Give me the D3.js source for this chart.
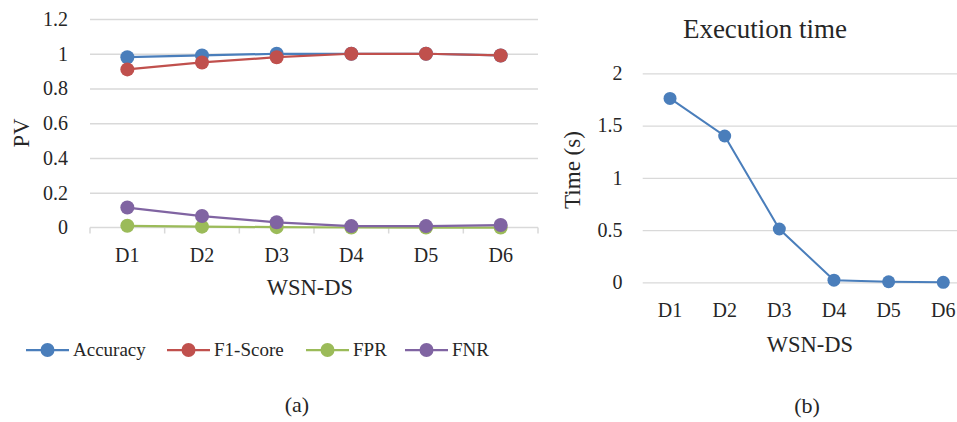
<!DOCTYPE html>
<html>
<head>
<meta charset="utf-8">
<script src="https://cdn.jsdelivr.net/npm/d3@7"></script>
<style>
  body { margin: 0; background: #fff; }
  text { font-family: "Liberation Serif", "Times New Roman", serif; fill: #262626; }
</style>
</head>
<body>
<div id="viz"></div>
<script>
// data
const categories = ["D1", "D2", "D3", "D4", "D5", "D6"];
const accuracy = [0.98, 0.99, 1.0, 1.0, 1.0, 0.99];
const f1Score  = [0.91, 0.95, 0.98, 1.0, 1.0, 0.99];
const fpr      = [0.01, 0.005, 0.002, 0.0, 0.0, 0.0];
const fnr      = [0.115, 0.066, 0.03, 0.008, 0.008, 0.014];
const execTime = [1.76, 1.40, 0.51, 0.02, 0.005, 0.0];
const pvTicks   = [0, 0.2, 0.4, 0.6, 0.8, 1, 1.2];
const timeTicks = [0, 0.5, 1, 1.5, 2];

const seriesA = [
  {name: "Accuracy", values: accuracy, color: "#4a7ebb"},
  {name: "F1-Score", values: f1Score,  color: "#c0504d"},
  {name: "FPR",      values: fpr,      color: "#9bbb59"},
  {name: "FNR",      values: fnr,      color: "#8064a2"}
];

const W = 957, H = 422;
const gridColor = "#d9d9d9";

const svg = d3.select("#viz")
  .append("svg")
    .attr("width", W)
    .attr("height", H);

// ---------- chart (a) ----------
const xA = d3.scaleBand().domain(categories).range([90, 538]);
const yA = d3.scaleLinear().domain([0, 1.2]).range([227.5, 19]);

// gridlines
svg.append("g")
  .attr("transform", `translate(90,0)`)
  .call(d3.axisLeft(yA).tickValues(pvTicks.filter(d => d > 0)).tickSize(-(538 - 90)).tickFormat(""))
  .call(g => g.select(".domain").remove())
  .call(g => g.selectAll("line").attr("stroke", gridColor).attr("stroke-width", 1.3));

// x axis line with ticks at band edges
const xAxisA = svg.append("g");
xAxisA.append("line")
  .attr("x1", 90).attr("x2", 538)
  .attr("y1", yA(0)).attr("y2", yA(0))
  .attr("stroke", gridColor).attr("stroke-width", 1.5);
xAxisA.selectAll(".edge")
  .data(categories.concat(["end"]))
  .enter().append("line")
    .attr("x1", (d, i) => 90 + i * xA.step())
    .attr("x2", (d, i) => 90 + i * xA.step())
    .attr("y1", yA(0)).attr("y2", yA(0) + 6)
    .attr("stroke", gridColor).attr("stroke-width", 1.5);

// x tick labels
svg.selectAll(".xlabA")
  .data(categories)
  .enter().append("text")
    .attr("x", d => xA(d) + xA.bandwidth() / 2)
    .attr("y", 261.5)
    .attr("text-anchor", "middle")
    .style("font-size", "20px")
    .text(d => d);

// y tick labels
svg.selectAll(".ylabA")
  .data(pvTicks)
  .enter().append("text")
    .attr("x", 68)
    .attr("y", d => yA(d))
    .attr("dy", "0.34em")
    .attr("text-anchor", "end")
    .style("font-size", "20px")
    .text(d => d);

// lines + markers
const lineA = d3.line()
  .x((d, i) => xA(categories[i]) + xA.bandwidth() / 2)
  .y(d => yA(d));

seriesA.forEach(s => {
  svg.append("path")
    .datum(s.values)
    .attr("d", lineA)
    .attr("fill", "none")
    .attr("stroke", s.color)
    .attr("stroke-width", 2.25);
  svg.selectAll(null)
    .data(s.values)
    .enter().append("circle")
      .attr("cx", (d, i) => xA(categories[i]) + xA.bandwidth() / 2)
      .attr("cy", d => yA(d))
      .attr("r", 7)
      .attr("fill", s.color);
});

// axis titles
svg.append("text")
  .attr("x", 310).attr("y", 295)
  .attr("text-anchor", "middle")
  .style("font-size", "22.5px")
  .text("WSN-DS");

svg.append("text")
  .attr("transform", "translate(29,133) rotate(-90)")
  .attr("text-anchor", "middle")
  .style("font-size", "22.5px")
  .text("PV");

// legend
const legendX = [26, 167, 306, 405];
const legend = svg.selectAll(".legend")
  .data(seriesA)
  .enter().append("g")
    .attr("transform", (d, i) => `translate(${legendX[i]},350)`);
legend.append("line")
  .attr("x1", 0).attr("x2", 43)
  .attr("stroke", d => d.color).attr("stroke-width", 2.25);
legend.append("circle")
  .attr("cx", 21.5).attr("r", 7)
  .attr("fill", d => d.color);
legend.append("text")
  .attr("x", 47).attr("dy", "0.34em")
  .style("font-size", "19px")
  .text(d => d.name);

svg.append("text")
  .attr("x", 297).attr("y", 411.5)
  .attr("text-anchor", "middle")
  .style("font-size", "22px")
  .text("(a)");

// ---------- chart (b) ----------
const xB = d3.scaleBand().domain(categories).range([642.7, 970.6]);
const yB = d3.scaleLinear().domain([0, 2]).range([282.3, 73.3]);

svg.append("g")
  .attr("transform", `translate(642.7,0)`)
  .call(d3.axisLeft(yB).tickValues(timeTicks).tickSize(-(W - 642.7)).tickFormat(""))
  .call(g => g.select(".domain").remove())
  .call(g => g.selectAll("line").attr("stroke", gridColor).attr("stroke-width", 1.3));

svg.selectAll(".xlabB")
  .data(categories)
  .enter().append("text")
    .attr("x", d => xB(d) + xB.bandwidth() / 2)
    .attr("y", 316.5)
    .attr("text-anchor", "middle")
    .style("font-size", "20px")
    .text(d => d);

svg.selectAll(".ylabB")
  .data(timeTicks)
  .enter().append("text")
    .attr("x", 622.5)
    .attr("y", d => yB(d))
    .attr("dy", "0.34em")
    .attr("text-anchor", "end")
    .style("font-size", "20px")
    .text(d => d);

const lineB = d3.line()
  .x((d, i) => xB(categories[i]) + xB.bandwidth() / 2)
  .y(d => yB(d));

svg.append("path")
  .datum(execTime)
  .attr("d", lineB)
  .attr("fill", "none")
  .attr("stroke", "#4a7ebb")
  .attr("stroke-width", 2);
svg.selectAll(".ptB")
  .data(execTime)
  .enter().append("circle")
    .attr("cx", (d, i) => xB(categories[i]) + xB.bandwidth() / 2)
    .attr("cy", d => yB(d))
    .attr("r", 6.5)
    .attr("fill", "#4a7ebb");

svg.append("text")
  .attr("x", 765).attr("y", 38)
  .attr("text-anchor", "middle")
  .style("font-size", "27px")
  .text("Execution time");

svg.append("text")
  .attr("x", 810).attr("y", 351.5)
  .attr("text-anchor", "middle")
  .style("font-size", "22.5px")
  .text("WSN-DS");

svg.append("text")
  .attr("transform", "translate(580,170) rotate(-90)")
  .attr("text-anchor", "middle")
  .style("font-size", "23px")
  .text("Time (s)");

svg.append("text")
  .attr("x", 807).attr("y", 413)
  .attr("text-anchor", "middle")
  .style("font-size", "22px")
  .text("(b)");
</script>
</body>
</html>
